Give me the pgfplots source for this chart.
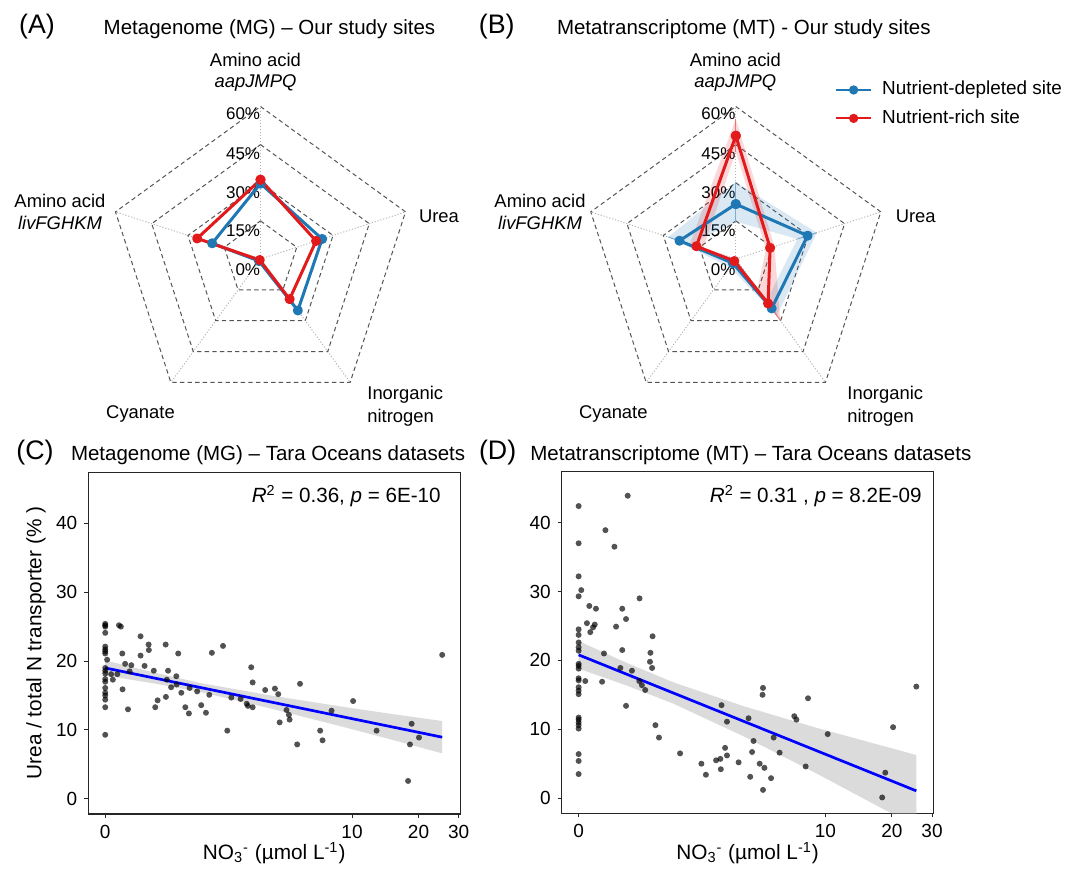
\documentclass[border=0pt]{standalone}
\usepackage{fontspec}
\setmainfont{Liberation Sans}
\usepackage{pgfplots}
\usepackage{pgfplotstable}
\pgfplotsset{compat=1.18}
\usepgfplotslibrary{polar}
\definecolor{cblue}{RGB}{31,120,180}
\definecolor{cred}{RGB}{227,26,28}
\definecolor{ringgray}{RGB}{85,85,85}
\newcommand{\fs}[1]{\fontsize{#1pt}{#1pt}\selectfont}

\pgfplotstableread{
u y
0 25.4
0 25.2
0 25.0
0 24.1
0 22.1
0 21.7
0 21.4
0 21.1
0 19.0
0 18.6
0 18.2
0 17.4
0 17.0
0 16.1
0 15.4
0 15.0
0 14.4
0 13.3
0 9.3
0.008 20.2
0.058 25.2
0.066 25.0
0.072 21.1
0.073 15.9
0.084 19.6
0.096 13.0
0.110 19.4
0.032 17.3
0.051 18.1
0.025 18.1
0.103 18.5
0.149 23.6
0.149 20.8
0.183 22.4
0.184 21.6
0.166 19.3
0.205 18.6
0.255 22.4
0.265 18.6
0.300 17.8
0.308 21.1
0.260 17.3
0.278 16.2
0.301 16.6
0.321 15.4
0.221 14.3
0.211 13.3
0.256 14.8
0.338 13.3
0.353 12.4
0.356 16.1
0.388 15.6
0.405 13.6
0.425 12.5
0.439 15.1
0.450 21.2
0.497 22.2
0.515 9.9
0.532 14.7
0.571 14.5
0.597 13.8
0.602 13.5
0.622 13.3
0.616 19.1
0.622 16.9
0.675 15.8
0.716 16.0
0.730 15.2
0.822 16.7
0.765 12.9
0.775 12.2
0.778 11.5
0.736 11.1
0.810 7.9
0.907 9.9
0.917 8.5
0.955 12.8
1.046 14.2
1.145 9.9
1.293 10.9
1.324 8.9
1.286 7.9
1.278 2.6
1.422 20.9
}\dataC

\pgfplotstableread{
u y
0 42.4
0 37.0
0 32.2
0 29.3
0 24.5
0 23.7
0 22.6
0 21.9
0 21.4
0 19.5
0 19.2
0 18.8
0 17.4
0 17.1
0 16.1
0 15.6
0 15.1
0 11.7
0 11.4
0 11.0
0 10.6
0 10.1
0 6.4
0 5.4
0 3.5
0.011 30.2
0.207 43.9
0.113 38.9
0.151 36.5
0.257 29.0
0.045 27.9
0.073 27.5
0.184 27.5
0.200 26.0
0.035 25.4
0.068 25.2
0.061 24.8
0.049 24.1
0.158 24.9
0.312 23.5
0.107 21.0
0.184 21.5
0.303 21.1
0.301 19.8
0.310 18.9
0.176 18.9
0.225 18.5
0.028 17.0
0.099 16.9
0.256 17.0
0.267 16.4
0.281 15.7
0.200 13.4
0.324 10.6
0.339 8.8
0.428 6.5
0.518 5.0
0.537 3.4
0.580 5.5
0.598 5.7
0.600 4.2
0.618 7.3
0.626 6.2
0.675 5.2
0.603 13.5
0.626 11.1
0.717 11.6
0.738 8.3
0.732 6.7
0.724 3.1
0.764 5.0
0.784 4.4
0.778 1.2
0.812 2.9
0.778 16.0
0.776 15.0
0.823 8.8
0.848 6.6
0.910 11.9
0.919 11.4
0.968 14.5
0.958 4.6
1.051 9.3
1.294 3.7
1.281 0.1
1.327 10.3
1.425 16.2
}\dataD

\tikzset{
  rlab/.style={anchor=east, inner sep=0pt, font=\fs{8.5}},
  lab/.style={font=\fs{9.2}, inner sep=0pt, text height=6.6pt, text depth=0pt},
}
\pgfplotsset{
  radar/.style={scale only axis, width=152.5pt, height=152.5pt,
    xmin=0, xmax=360, ymin=0, ymax=60, hide axis, clip=false, anchor=center},
  ring/.style={ringgray, line width=0.5pt, dash pattern=on 2.2pt off 1.6pt, forget plot},
  spoke/.style={black!30, line width=0.45pt, dash pattern=on 0.6pt off 0.9pt, forget plot},
  ser/.style={line width=1.5pt, line join=round, mark=*, mark size=1.75pt, mark options={solid}},
  scat/.style={scale only axis, width=185.9pt, height=170.85pt,
    xmin=-0.0715, xmax=1.4975, ymin=-2.2, ymax=47.4,
    xtick={0,1.0414,1.3222,1.4914}, xticklabels={0,10,20,30},
    ytick={0,10,20,30,40},
    tick align=outside, tick pos=left, major tick length=2pt,
    tick style={black!85, line width=0.5pt},
    axis line style={black!85, line width=0.6pt},
    ticklabel style={font=\fs{9.5}},
    /pgf/number format/assume math mode=true,
    anchor=south west},
  dots/.style={only marks, mark=*, mark size=1.5pt, mark options={fill=black, draw=black, fill opacity=0.68, draw opacity=0}},
  band/.style={fill=black!35, fill opacity=0.4, draw=none},
}

\begin{document}
\begin{tikzpicture}
\useasboundingbox (0,0) rectangle (541pt,-437pt);

% ---------- titles ----------
\node[font=\fs{13.4}, inner sep=0] at (18.5pt,-13.5pt) {(A)};
\node[font=\fs{10.25}, anchor=west, inner sep=0, text height=7.3pt, text depth=0pt] at (51.65pt,-13.5pt) {Metagenome (MG) – Our study sites};
\node[font=\fs{13.4}, inner sep=0] at (248.35pt,-13.5pt) {(B)};
\node[font=\fs{10.25}, anchor=west, inner sep=0, text height=7.3pt, text depth=0pt] at (278.3pt,-13.5pt) {Metatranscriptome (MT) - Our study sites};
\node[font=\fs{13.4}, inner sep=0] at (17.5pt,-226.5pt) {(C)};
\node[font=\fs{10.25}, anchor=west, inner sep=0, text height=7.3pt, text depth=0pt] at (35.3pt,-226.5pt) {Metagenome (MG) – Tara Oceans datasets};
\node[font=\fs{13.4}, inner sep=0] at (248.8pt,-226.5pt) {(D)};
\node[font=\fs{10.25}, anchor=west, inner sep=0, text height=7.3pt, text depth=0pt] at (265pt,-226.5pt) {Metatranscriptome (MT) – Tara Oceans datasets};

% ---------- radar labels ----------
\node[lab] at (127.75pt,-29.9pt) {Amino acid};
\node[lab] at (127.75pt,-40.65pt) {\itshape aapJMPQ};
\node[lab] at (219.5pt,-108pt) {Urea};
\node[lab, anchor=west] at (183.5pt,-196.5pt) {Inorganic};
\node[lab, anchor=west] at (183.5pt,-208pt) {nitrogen};
\node[lab] at (70.25pt,-206pt) {Cyanate};
\node[lab] at (30pt,-100.65pt) {Amino acid};
\node[lab] at (30pt,-111.65pt) {\itshape livFGHKM};

\node[lab] at (367.65pt,-29.9pt) {Amino acid};
\node[lab] at (367.65pt,-40.65pt) {\itshape aapJMPQ};
\node[lab] at (457.85pt,-108pt) {Urea};
\node[lab, anchor=west] at (423.5pt,-196.5pt) {Inorganic};
\node[lab, anchor=west] at (423.5pt,-208pt) {nitrogen};
\node[lab] at (306.65pt,-206pt) {Cyanate};
\node[lab] at (270pt,-100.65pt) {Amino acid};
\node[lab] at (270pt,-111.65pt) {\itshape livFGHKM};

% ---------- radar A ----------
\begin{polaraxis}[radar, at={(130.25pt,-129.5pt)}]
\addplot[spoke] coordinates {(90,0) (90,60)};
\addplot[spoke] coordinates {(18,0) (18,60)};
\addplot[spoke] coordinates {(-54,0) (-54,60)};
\addplot[spoke] coordinates {(-126,0) (-126,60)};
\addplot[spoke] coordinates {(162,0) (162,60)};
\addplot[ring] coordinates {(90,15) (18,15) (-54,15) (-126,15) (162,15) (90,15)};
\addplot[ring] coordinates {(90,30) (18,30) (-54,30) (-126,30) (162,30) (90,30)};
\addplot[ring] coordinates {(90,45) (18,45) (-54,45) (-126,45) (162,45) (90,45)};
\addplot[ring] coordinates {(90,60) (18,60) (-54,60) (-126,60) (162,60) (90,60)};
\node[rlab, yshift=-3.8pt] at (axis cs:90,60) {60\%};
\node[rlab, yshift=-4.3pt] at (axis cs:90,45) {45\%};
\node[rlab, yshift=-4.8pt] at (axis cs:90,30) {30\%};
\node[rlab, yshift=-5pt] at (axis cs:90,15) {15\%};
\node[rlab, yshift=-5.5pt] at (axis cs:90,0) {0\%};
\addplot[ser, cblue] coordinates {(90,29.7) (18,25.5) (-54,25.0) (-126,1.0) (162,20.0) (90,29.7)};
\addplot[ser, cred] coordinates {(90,31.2) (18,23.0) (-54,19.5) (-126,0.5) (162,26.2) (90,31.2)};
\end{polaraxis}

% ---------- radar B ----------
\begin{polaraxis}[radar, at={(367.9pt,-129.5pt)},
  legend style={draw=none, fill=none, at={(0.824,1.0915)}, anchor=north west,
    font=\fs{9.45}, inner sep=0pt, row sep=3.2pt,
    nodes={inner sep=1pt, text height=7pt, text depth=2pt},
    /tikz/every odd column/.append style={column sep=4pt}},
  legend cell align=left,
  legend image code/.code={\draw[mark repeat=2,mark phase=2,#1,line width=1.1pt] plot coordinates {(0pt,0pt) (8.75pt,0pt) (17.5pt,0pt)};}]
\addplot[spoke] coordinates {(90,0) (90,60)};
\addplot[spoke] coordinates {(18,0) (18,60)};
\addplot[spoke] coordinates {(-54,0) (-54,60)};
\addplot[spoke] coordinates {(-126,0) (-126,60)};
\addplot[spoke] coordinates {(162,0) (162,60)};
\addplot[ring] coordinates {(90,15) (18,15) (-54,15) (-126,15) (162,15) (90,15)};
\addplot[ring] coordinates {(90,30) (18,30) (-54,30) (-126,30) (162,30) (90,30)};
\addplot[ring] coordinates {(90,45) (18,45) (-54,45) (-126,45) (162,45) (90,45)};
\addplot[ring] coordinates {(90,60) (18,60) (-54,60) (-126,60) (162,60) (90,60)};
\node[rlab, yshift=-3.8pt] at (axis cs:90,60) {60\%};
\node[rlab, yshift=-4.3pt] at (axis cs:90,45) {45\%};
\node[rlab, yshift=-4.8pt] at (axis cs:90,30) {30\%};
\node[rlab, yshift=-5pt] at (axis cs:90,15) {15\%};
\node[rlab, yshift=-5.5pt] at (axis cs:90,0) {0\%};
% error ribbons
\addplot[fill=cblue, fill opacity=0.17, draw=none, forget plot] coordinates {(90,30.2) (18,33.5) (-54,27.5) (-126,4.0) (162,27.9) (90,30.2) (90,14.7) (162,19.0) (-126,0.0) (-54,20.5) (18,25.5) (90,14.7)};
\addplot[fill=cred, fill opacity=0.17, draw=none, forget plot] coordinates {(90,55.1) (18,16.0) (-54,29.7) (-126,2.5) (162,19.0) (90,55.1) (90,42.2) (162,13.5) (-126,0.0) (-54,14.5) (18,12.5) (90,42.2)};
% error bars
\addplot[cblue!60, line width=0.5pt, forget plot] coordinates {(90,14.7) (90,30.2)};
\addplot[cblue!60, line width=0.5pt, forget plot] coordinates {(18,25.5) (18,33.5)};
\addplot[cblue!60, line width=0.5pt, forget plot] coordinates {(-54,20.5) (-54,27.5)};
\addplot[cblue!60, line width=0.5pt, forget plot] coordinates {(162,19.0) (162,27.9)};
\addplot[cred!60, line width=0.5pt, forget plot] coordinates {(90,42.2) (90,55.1)};
\addplot[cred!60, line width=0.5pt, forget plot] coordinates {(18,12.5) (18,16.0)};
\addplot[cred!60, line width=0.5pt, forget plot] coordinates {(-54,14.5) (-54,29.7)};
\addplot[cred!60, line width=0.5pt, forget plot] coordinates {(162,13.5) (162,19.0)};
\addplot[ser, cblue] coordinates {(90,21.6) (18,29.7) (-54,24.0) (-126,2.0) (162,23.3) (90,21.6)};
\addplot[ser, cred] coordinates {(90,48.5) (18,14.2) (-54,21.6) (-126,1.0) (162,16.3) (90,48.5)};
\legend{Nutrient-depleted site, Nutrient-rich site}
\end{polaraxis}

% ---------- scatter C ----------
\begin{axis}[scat, at={(44.15pt,-407pt)}]
\addplot[dots] table[x=u, y=y] {\dataC};
\addplot[band] coordinates {(0,20.1) (0.2,18.39) (0.4,16.82) (0.7,15.0) (1.0,13.38) (1.2,12.37) (1.422,11.3) (1.422,6.6) (1.2,8.67) (1.0,10.48) (0.7,13.1) (0.4,15.52) (0.2,16.79) (0,17.9)};
\addplot[blue, line width=1.35pt] coordinates {(0,19.0) (1.422,8.95)};
\end{axis}

% ---------- scatter D ----------
\begin{axis}[scat, at={(280.85pt,-406.65pt)}]
\addplot[dots] table[x=u, y=y] {\dataD};
\addplot[band] coordinates {(0,22.8) (0.2,19.68) (0.4,16.81) (0.7,13.31) (1.0,10.25) (1.2,8.38) (1.425,6.26) (1.425,-4.14) (1.2,-0.02) (1.0,3.65) (0.7,8.91) (0.4,13.71) (0.2,16.38) (0,18.8)};
\addplot[blue, line width=1.35pt] coordinates {(0,20.8) (1.425,1.06)};
\end{axis}

% ---------- axis titles and annotations ----------
\node[font=\fs{10.4}, inner sep=0] at (137.1pt,-426.5pt) {NO\textsubscript{3}\textsuperscript{-} (µmol L\textsuperscript{-1})};
\node[font=\fs{10.4}, inner sep=0] at (373.8pt,-426.5pt) {NO\textsubscript{3}\textsuperscript{-} (µmol L\textsuperscript{-1})};
\node[font=\fs{10.4}, inner sep=0, rotate=90] at (18pt,-321.5pt) {Urea / total N transporter (\% )};
\node[font=\fs{10.3}, anchor=east, inner sep=0, text height=7.4pt, text depth=0pt] at (220.5pt,-247.5pt) {\textit{R}\textsuperscript{2} = 0.36, \textit{p} = 6E-10};
\node[font=\fs{10.3}, anchor=east, inner sep=0, text height=7.4pt, text depth=0pt] at (461pt,-247.5pt) {\textit{R}\textsuperscript{2} = 0.31 , \textit{p} = 8.2E-09};
\end{tikzpicture}
\end{document}
